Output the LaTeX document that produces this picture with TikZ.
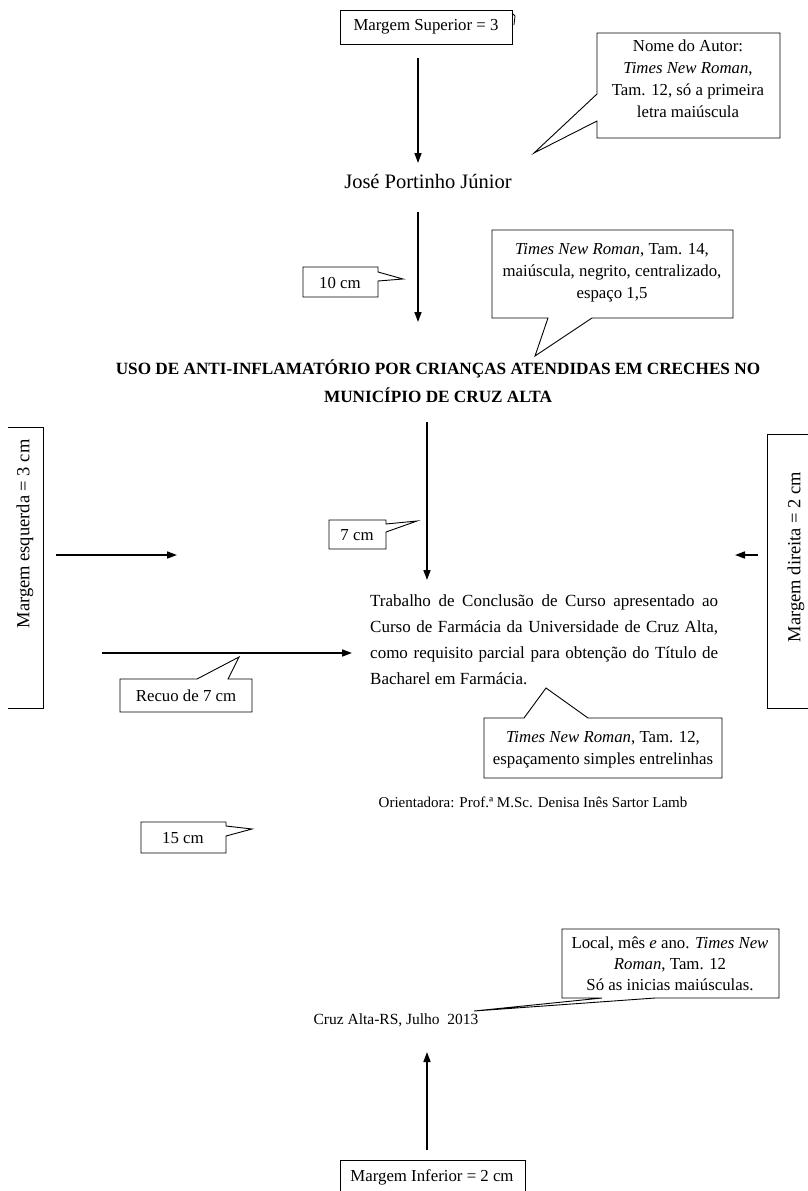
\documentclass[tikz,border=0pt]{standalone}
\usepackage{fontspec}
\setmainfont{Liberation Serif}
\usetikzlibrary{arrows.meta}
\begin{document}
\begin{tikzpicture}[x=1pt,y=-1pt,
  outline/.style={draw, line width=0.9pt, line join=miter},
  note/.style={font=\fontsize{16.8}{22}\selectfont, align=center, inner sep=0pt},
  notetight/.style={font=\fontsize{16.8}{21}\selectfont, align=center, inner sep=0pt},
  sidelabel/.style={font=\fontsize{18.5}{20}\selectfont, inner sep=0pt, rotate=90},
  bodytext/.style={font=\fontsize{17}{26}\selectfont, inner sep=0pt},
  arr/.style={-{Triangle[length=10pt,width=7pt]}, line width=1.6pt}]
\useasboundingbox[fill=white] (0,0) rectangle (807,1191);

% ---------- top margin ----------
\node[outline, note, minimum width=172, minimum height=34] (sup) at (426,27) {Margem Superior = 3};
\draw[line width=0.8pt] (512,13) -- (515,16) -- (514,25);
\coordinate (a1s) at (418,58);
\coordinate (a1e) at (418,163);
\draw[arr] (a1s) -- (a1e);

\node[font=\fontsize{20.5}{24}\selectfont, inner sep=0pt] (autor) at (428,181) {José Portinho Júnior};

% author note
\draw[outline] (597,33) -- (780,33) -- (780,138) -- (597,138) -- (597,121)
  -- (534,153) -- (597,94) -- cycle;
\node[note] (autornote) at (688,79) {Nome do Autor:\\ \textit{Times New Roman},\\ Tam. 12, só a primeira\\ letra maiúscula};

% ---------- 10 cm ----------
\coordinate (a2s) at (418,212);
\coordinate (a2e) at (418,322);
\draw[arr] (a2s) -- (a2e);
\draw[outline] (303,267) -- (378,267) -- (378,272) -- (403,279) -- (378,281)
  -- (378,297) -- (303,297) -- cycle;
\node[note] (dez) at (340,283) {10 cm};

% title note
\draw[outline] (492,230) -- (733,230) -- (733,318) -- (592,318) -- (535,356)
  -- (548,318) -- (492,318) -- cycle;
\node[note] (titnote) at (612,273)
  {\textit{Times New Roman}, Tam. 14,\\ maiúscula, negrito, centralizado,\\ espaço 1,5};

\node[font=\fontsize{17.2}{28}\selectfont\bfseries, align=center, inner sep=0pt] (titulo) at (438,381)
  {USO DE ANTI-INFLAMATÓRIO POR CRIANÇAS ATENDIDAS EM CRECHES NO\\ MUNICÍPIO DE CRUZ ALTA};

% ---------- 7 cm ----------
\coordinate (a3s) at (427,422);
\coordinate (a3e) at (427,580);
\draw[arr] (a3s) -- (a3e);
\draw[outline] (329,520) -- (386,520) -- (386,524) -- (417,521) -- (386,532)
  -- (386,549) -- (329,549) -- cycle;
\node[note] (sete) at (357,535) {7 cm};

% side margins
\draw[outline] (8,427) -- (43,427) -- (43,708) -- (8,708);
\node[sidelabel] (esq) at (25,534) {Margem esquerda = 3 cm};
\draw[outline] (812,434) -- (767,434) -- (767,708) -- (812,708);
\node[sidelabel] (dir) at (796,557) {Margem direita = 2 cm};

\coordinate (hls) at (56,555);
\coordinate (hle) at (177,555);
\draw[arr] (hls) -- (hle);
\coordinate (hrs) at (758,555);
\coordinate (hre) at (735,555);
\draw[arr] (hrs) -- (hre);

% ---------- body ----------
\node[bodytext, anchor=north west, text width=348, align=justify] (corpo) at (370,594)
  {Trabalho de Conclusão de Curso apresentado ao\linebreak
   Curso de Farmácia da Universidade de Cruz Alta,\linebreak
   como requisito parcial para obtenção do Título de\linebreak
   Bacharel em Farmácia.};

\coordinate (rcs) at (102,653);
\coordinate (rce) at (352,653);
\draw[arr] (rcs) -- (rce);
\draw[outline] (120,679) -- (197,679) -- (239,657) -- (228,679) -- (252,679)
  -- (252,712) -- (120,712) -- cycle;
\node[note] (recuo) at (186,696) {Recuo de 7 cm};

\draw[outline] (484,718) -- (524,718) -- (546,688) -- (588,718) -- (722,718)
  -- (722,778) -- (484,778) -- cycle;
\node[note] (corponote) at (603,750)
  {\textit{Times New Roman}, Tam. 12,\\ espaçamento simples entrelinhas};

\node[font=\fontsize{15}{18}\selectfont, inner sep=0pt] (orient) at (533,802) {Orientadora: Prof.ª M.Sc. Denisa Inês Sartor Lamb};

% ---------- 15 cm ----------
\draw[outline] (141,822) -- (226,822) -- (226,826) -- (252,829) -- (226,836)
  -- (226,853) -- (141,853) -- cycle;
\node[note] (quinze) at (183,838) {15 cm};

% ---------- place and date ----------
\draw[outline] (562,929) -- (779,929) -- (779,998) -- (655,998) -- (474,1011)
  -- (602,998) -- (562,998) -- cycle;
\node[notetight] (localnote) at (670,964)
  {Local, mês \textit{e} ano. \textit{Times New}\\ \textit{Roman}, Tam. 12\\ Só as inicias maiúsculas.};

\node[font=\fontsize{15.5}{18}\selectfont, inner sep=0pt] (local) at (396,1020) {Cruz Alta-RS, Julho\ \ 2013};

\coordinate (a4s) at (427,1150);
\coordinate (a4e) at (427,1052);
\draw[arr] (a4s) -- (a4e);

\draw[outline] (340,1200) -- (340,1160) -- (525,1160) -- (525,1200);
\node[note] (inf) at (432,1177) {Margem Inferior = 2 cm};
\end{tikzpicture}
\end{document}
